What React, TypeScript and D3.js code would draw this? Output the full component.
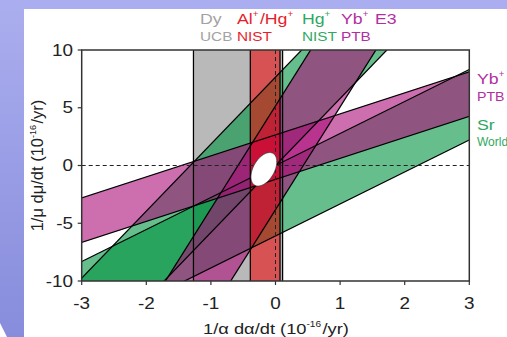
import React from "react";
import * as d3 from "d3";

// axis ticks
const xTicks = [-3, -2, -1, 0, 1, 2, 3];
const yTicks = [-10, -5, 0, 5, 10];

// vertical bands (limits on 1/α dα/dt)
const dyBand = [-1.27, 0.11];
const alHgBand = [-0.39, 0.07];

// slanted bands: 1/μ dμ/dt = slope * x + [low, high]
const slantNames = ["Sr", "Hg+", "Yb+ E2", "Yb+ E3"];
const slantSlopes = [2.77, 5.8, 1.82, 8.9];
const slantLow = [-6.1, 0.0, -1.2, -3.83];
const slantHigh = [0.0, 7.65, 2.65, 5.16];
const slantFills = [
  "rgba(0,147,63,0.6)",
  "rgba(0,147,63,0.6)",
  "rgba(172,13,122,0.6)",
  "rgba(172,13,122,0.6)",
];

// combined uncertainty ellipse
const ellipseCenter = [-0.18, -0.33];
const ellipseSigma = [0.2, 1.45];
const ellipseRho = 0.45;

const W = 507;
const H = 337;
const FONT = "'Liberation Sans', Arial, Helvetica, sans-serif";
const SX = 1.18; // text in the picture is a bit stretched sideways

const GRAY = "#a3a3a3";
const RED = "#e51e2b";
const GREEN = "#2ea862";
const MAGENTA = "#b1309f";

function T(props: any) {
  const { x, y, size, fill, anchor, sx, children } = props;
  return (
    <text
      transform={`translate(${x},${y}) scale(${sx ?? SX},1)`}
      fontSize={size}
      fill={fill ?? "#222"}
      textAnchor={anchor ?? "start"}
      fontFamily={FONT}
    >
      {children}
    </text>
  );
}

function Sup({ children, size }: any) {
  return (
    <>
      <tspan dy={-size * 0.45} fontSize={size * 0.55}>
        {children}
      </tspan>
      <tspan dy={size * 0.45}>{"\u200a"}</tspan>
    </>
  );
}

export default function App() {
  const x = d3.scaleLinear().domain([-3, 3]).range([81.7, 469.3]);
  const y = d3.scaleLinear().domain([-10, 10]).range([281, 50]);
  const [x0, x1] = x.range();
  const [yb, yt] = y.range();
  const xs = [-3.3, 3.3];

  const bandPoly = (i: number) => {
    const m = slantSlopes[i];
    const pts = [
      [xs[0], m * xs[0] + slantLow[i]],
      [xs[1], m * xs[1] + slantLow[i]],
      [xs[1], m * xs[1] + slantHigh[i]],
      [xs[0], m * xs[0] + slantHigh[i]],
    ];
    return pts.map((p) => `${x(p[0])},${y(p[1])}`).join(" ");
  };

  const edges: number[][] = [];
  slantSlopes.forEach((m, i) => {
    [slantLow[i], slantHigh[i]].forEach((b) => {
      edges.push([x(xs[0]), y(m * xs[0] + b), x(xs[1]), y(m * xs[1] + b)]);
    });
  });

  const ell = d3
    .range(0, 2 * Math.PI + 0.05, 0.05)
    .map((t) => {
      const ex = ellipseCenter[0] + ellipseSigma[0] * Math.cos(t);
      const ey =
        ellipseCenter[1] +
        ellipseSigma[1] *
          (ellipseRho * Math.cos(t) + Math.sqrt(1 - ellipseRho * ellipseRho) * Math.sin(t));
      return [x(ex), y(ey)] as [number, number];
    });
  const ellPath = d3.line()(ell) + "Z";

  const fmt = (t: number) => (t < 0 ? "-" + Math.abs(t) : String(t));

  return (
    <svg
      width={W}
      height={H}
      style={{ position: "absolute", left: 0, top: 0 }}
      xmlns="http://www.w3.org/2000/svg"
    >
      <defs>
        <linearGradient id="bgGrad" x1="0" y1="0" x2="0" y2="1">
          <stop offset="0" stopColor="#abaeee" />
          <stop offset="1" stopColor="#878cdc" />
        </linearGradient>
        <clipPath id="plotClip">
          <rect x={x0} y={yt} width={x1 - x0} height={yb - yt} />
        </clipPath>
      </defs>

      {/* slide background */}
      <rect x={0} y={0} width={W} height={H} fill="url(#bgGrad)" />
      <rect x={0} y={0} width={W} height={9} fill="#aaadef" />
      <rect x={24} y={9} width={W - 24} height={H - 9} fill="#ffffff" />
      <polygon points={`0,323 7,${H} 0,${H}`} fill="#ffffff" />

      <g clipPath="url(#plotClip)">
        {/* Dy */}
        <rect
          x={x(dyBand[0])}
          y={yt}
          width={x(dyBand[1]) - x(dyBand[0])}
          height={yb - yt}
          fill="rgba(138,138,138,0.6)"
        />
        {slantNames.map((n, i) => (
          <polygon key={n} points={bandPoly(i)} fill={slantFills[i]} />
        ))}
        {/* Al+/Hg+ */}
        <rect
          x={x(alHgBand[0])}
          y={yt}
          width={x(alHgBand[1]) - x(alHgBand[0])}
          height={yb - yt}
          fill="rgba(240,0,0,0.55)"
        />
        {edges.map((e, i) => (
          <line key={i} x1={e[0]} y1={e[1]} x2={e[2]} y2={e[3]} stroke="#000" strokeWidth={1.25} />
        ))}
        {[...dyBand, ...alHgBand].map((v, i) => (
          <line key={"v" + i} x1={x(v)} x2={x(v)} y1={yt} y2={yb} stroke="#000" strokeWidth={1.25} />
        ))}
        <line x1={x0} x2={x1} y1={y(0)} y2={y(0)} stroke="#222" strokeDasharray="4,3" strokeWidth={1} />
        <line x1={x(0)} x2={x(0)} y1={yt} y2={yb} stroke="#222" strokeDasharray="4,3" strokeWidth={1} />
        <path d={ellPath} fill="#fff" stroke="#333" strokeWidth={0.7} />
      </g>

      {/* frame + ticks */}
      <rect x={x0} y={yt} width={x1 - x0} height={yb - yt} fill="none" stroke="#333" strokeWidth={1.5} />
      {xTicks.map((t) => (
        <g key={"xt" + t}>
          <line x1={x(t)} x2={x(t)} y1={yb} y2={yb + 4} stroke="#333" strokeWidth={1.2} />
          <T x={x(t)} y={309} size={16} anchor="middle">
            {fmt(t)}
          </T>
        </g>
      ))}
      {yTicks.map((t) => (
        <g key={"yt" + t}>
          <line x1={x0 - 4} x2={x0} y1={y(t)} y2={y(t)} stroke="#333" strokeWidth={1.2} />
          <T x={73} y={y(t) + 5.5} size={16} anchor="end">
            {fmt(t)}
          </T>
        </g>
      ))}

      {/* axis titles */}
      <T x={276} y={334} size={15.5} anchor="middle">
        1/α dα/dt (10<Sup size={15.5}>-16</Sup>/yr)
      </T>
      <text
        transform={`translate(43,${(yt + yb) / 2}) rotate(-90)`}
        fontSize={16.5}
        fill="#222"
        textAnchor="middle"
        fontFamily={FONT}
      >
        1/μ dμ/dt (10<Sup size={16.5}>-16</Sup>/yr)
      </text>

      {/* top legend */}
      <T x={200} y={24} size={15} fill={GRAY}>Dy</T>
      <T x={200} y={41} size={13} fill={GRAY}>UCB</T>
      <T x={237} y={24} size={15} fill={RED}>
        Al<Sup size={15}>+</Sup>/Hg<Sup size={15}>+</Sup>
      </T>
      <T x={237} y={41} size={13} fill={RED}>NIST</T>
      <T x={302} y={24} size={15} fill={GREEN}>
        Hg<Sup size={15}>+</Sup>
      </T>
      <T x={302} y={41} size={13} fill={GREEN}>NIST</T>
      <T x={341} y={24} size={15} fill={MAGENTA}>
        Yb<Sup size={15}>+</Sup>
      </T>
      <T x={375} y={24} size={15} fill={MAGENTA}>E3</T>
      <T x={341} y={41} size={13} fill={MAGENTA}>PTB</T>

      {/* right labels */}
      <T x={477} y={84} size={15} fill={MAGENTA}>
        Yb<Sup size={15}>+</Sup>
      </T>
      <T x={477} y={101} size={12} fill={MAGENTA}>PTB</T>
      <T x={477} y={130} size={15} fill={GREEN}>Sr</T>
      <T x={477} y={146} size={12} fill={GREEN} sx={1.0}>World</T>
    </svg>
  );
}
